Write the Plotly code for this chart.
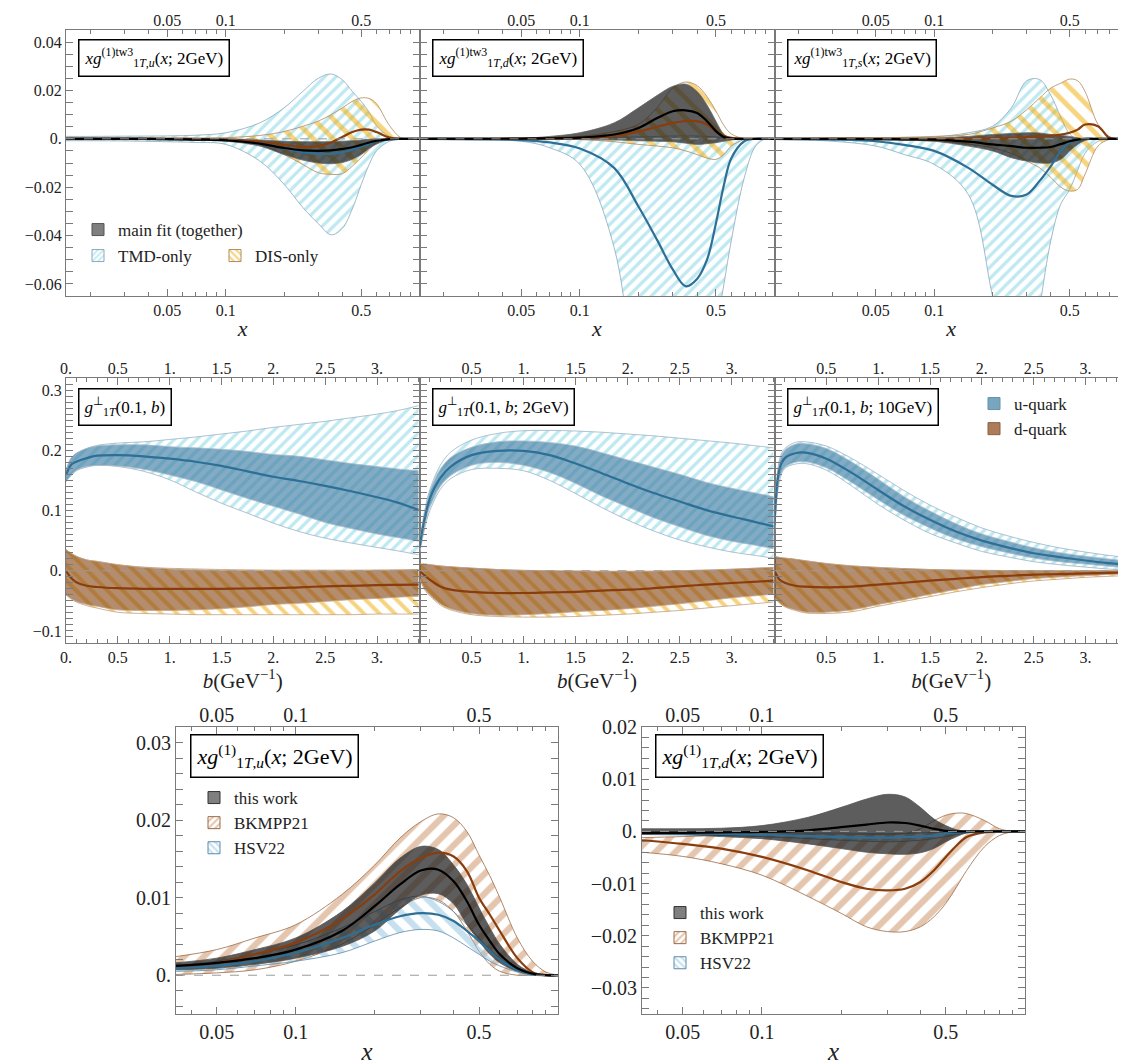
import math
import plotly.graph_objects as go

W, H = 1126, 1064
SERIF = "Liberation Serif"

# ---------------- data: top row, x g_1T^(1)tw3 (x; 2GeV) ----------------
X_TOP = [0.015, 0.02, 0.03, 0.05, 0.07, 0.1, 0.15, 0.2, 0.25, 0.3, 0.35, 0.4, 0.45, 0.5, 0.55, 0.6, 0.7, 0.8, 0.9, 1.0]
X_TOP_TICKS = [0.05, 0.1, 0.5]
X_TOP_LABELS = ["0.05", "0.1", "0.5"]

TMD_U_HI = [0.001, 0.001, 0.0011, 0.0012, 0.0015, 0.0025, 0.0066, 0.0128, 0.0196, 0.025, 0.0268, 0.0244, 0.0196, 0.0155, 0.011, 0.0055, 0.001, 0.0001, 0.0, 0.0]
TMD_U_LO = [-0.0008, -0.0008, -0.0009, -0.0012, -0.0015, -0.0023, -0.0092, -0.0188, -0.0284, -0.035, -0.0397, -0.037, -0.029, -0.019, -0.0106, -0.005, -0.001, 0.0, 0.0, 0.0]
TMD_U_MID = [0.0, 0.0, 0.0, -0.0001, -0.0002, -0.0005, -0.002, -0.004, -0.0055, -0.0062, -0.0062, -0.0055, -0.0045, -0.0032, -0.002, -0.001, -0.0002, 0.0, 0.0, 0.0]
DIS_U_HI = [0.0003, 0.0003, 0.0003, 0.0003, 0.0004, 0.0005, 0.0014, 0.003, 0.0052, 0.0073, 0.01, 0.0128, 0.0155, 0.0169, 0.0167, 0.0145, 0.0055, 0.0005, 0.0, 0.0]
DIS_U_LO = [-0.0003, -0.0003, -0.0003, -0.0003, -0.0004, -0.0005, -0.0023, -0.0065, -0.0106, -0.014, -0.0147, -0.0144, -0.0113, -0.0078, -0.0044, -0.0016, -0.0003, 0.0, 0.0, 0.0]
DIS_U_MID = [0.0, 0.0, 0.0, 0.0, -0.0001, -0.0003, -0.0012, -0.0025, -0.0033, -0.003, -0.0015, 0.0008, 0.0028, 0.0038, 0.0038, 0.0028, 0.0005, 0.0, 0.0, 0.0]
MAIN_U_HI = [0.0003, 0.0003, 0.0003, 0.0002, 0.0001, 0.0, -0.0005, -0.001, -0.0012, -0.0012, -0.0012, -0.001, -0.0008, -0.0005, -0.0002, 0.0, 0.0, 0.0, 0.0, 0.0]
MAIN_U_LO = [-0.0003, -0.0003, -0.0003, -0.0004, -0.0006, -0.001, -0.003, -0.0065, -0.0088, -0.01, -0.0103, -0.0098, -0.0085, -0.0065, -0.004, -0.0022, -0.0003, 0.0, 0.0, 0.0]
MAIN_U_MID = [0.0, 0.0, 0.0, -0.0001, -0.0003, -0.0006, -0.002, -0.0038, -0.0048, -0.005, -0.0048, -0.0042, -0.0035, -0.0025, -0.0015, -0.0008, -0.0001, 0.0, 0.0, 0.0]

TMD_D_HI = [0.0005, 0.0005, 0.0005, 0.0005, 0.0005, 0.0005, 0.0006, 0.0008, 0.001, 0.0012, 0.0012, 0.0012, 0.001, 0.0008, 0.0005, 0.0003, 0.0, 0.0, 0.0, 0.0]
TMD_D_LO = [-0.0003, -0.0004, -0.0006, -0.001, -0.0037, -0.0106, -0.045, -0.12, -0.17, -0.2, -0.2, -0.16, -0.11, -0.08, -0.06, -0.042, -0.016, -0.003, 0.0, 0.0]
TMD_D_MID = [0.0, 0.0, -0.0001, -0.0005, -0.0015, -0.004, -0.012, -0.028, -0.042, -0.054, -0.061, -0.058, -0.05, -0.035, -0.019, -0.008, -0.001, 0.0, 0.0, 0.0]
DIS_D_HI = [0.0001, 0.0001, 0.0001, 0.0002, 0.0005, 0.001, 0.003, 0.006, 0.013, 0.021, 0.0235, 0.022, 0.0175, 0.0115, 0.0055, 0.002, 0.0001, 0.0, 0.0, 0.0]
DIS_D_LO = [-0.0001, -0.0001, -0.0001, -0.0001, -0.0002, -0.0003, -0.0012, -0.0023, -0.003, -0.0037, -0.005, -0.0065, -0.008, -0.0085, -0.0065, -0.003, -0.0003, 0.0, 0.0, 0.0]
DIS_D_MID = [0.0, 0.0, 0.0, 0.0, 0.0001, 0.0003, 0.0012, 0.003, 0.005, 0.0066, 0.0073, 0.0073, 0.0059, 0.003, 0.0012, 0.0004, 0.0, 0.0, 0.0, 0.0]
MAIN_D_HI = [0.0001, 0.0001, 0.0001, 0.0002, 0.001, 0.0025, 0.0066, 0.0128, 0.018, 0.0217, 0.0226, 0.0196, 0.014, 0.0073, 0.0018, 0.0003, 0.0, 0.0, 0.0, 0.0]
MAIN_D_LO = [-0.0001, -0.0001, -0.0001, -0.0001, -0.0002, -0.0003, -0.0005, -0.0008, -0.001, -0.0012, -0.0018, -0.0023, -0.002, -0.0016, -0.001, -0.0005, 0.0, 0.0, 0.0, 0.0]
MAIN_D_MID = [0.0, 0.0, 0.0, 0.0001, 0.0002, 0.0005, 0.0018, 0.0045, 0.0086, 0.0114, 0.0118, 0.0107, 0.0073, 0.0032, 0.0007, 0.0001, 0.0, 0.0, 0.0, 0.0]

TMD_S_HI = [0.0003, 0.0003, 0.0004, 0.0005, 0.0006, 0.0008, 0.0025, 0.0052, 0.0128, 0.024, 0.0245, 0.018, 0.009, 0.002, 0.0, 0.0, 0.0, 0.0, 0.0, 0.0]
TMD_S_LO = [-0.0003, -0.0005, -0.001, -0.003, -0.0065, -0.0106, -0.023, -0.065, -0.1, -0.105, -0.07, -0.042, -0.027, -0.021, -0.013, -0.006, -0.001, 0.0, 0.0, 0.0]
TMD_S_MID = [0.0, -0.0001, -0.0003, -0.001, -0.0025, -0.005, -0.012, -0.019, -0.0236, -0.023, -0.0174, -0.0113, -0.005, -0.0016, -0.0005, 0.0, 0.0, 0.0, 0.0, 0.0]
DIS_S_HI = [0.0002, 0.0002, 0.0003, 0.0004, 0.0006, 0.001, 0.0018, 0.0045, 0.0073, 0.012, 0.0169, 0.021, 0.023, 0.0247, 0.024, 0.0196, 0.006, 0.001, 0.0, 0.0]
DIS_S_LO = [-0.0002, -0.0002, -0.0003, -0.0004, -0.0006, -0.001, -0.0022, -0.0037, -0.006, -0.0092, -0.012, -0.016, -0.02, -0.0216, -0.0209, -0.0147, -0.003, -0.0003, 0.0, 0.0]
DIS_S_MID = [0.0, 0.0, 0.0, 0.0, 0.0, 0.0, 0.0001, 0.0002, 0.0004, 0.0007, 0.001, 0.0013, 0.0017, 0.0025, 0.0038, 0.0059, 0.0052, 0.0004, 0.0, 0.0]
MAIN_S_HI = [0.0001, 0.0001, 0.0001, 0.0002, 0.0002, 0.0003, 0.001, 0.0018, 0.0022, 0.0025, 0.0024, 0.0018, 0.0014, 0.001, 0.0004, 0.0001, 0.0, 0.0, 0.0, 0.0]
MAIN_S_LO = [-0.0001, -0.0001, -0.0002, -0.0004, -0.0006, -0.001, -0.003, -0.005, -0.0078, -0.0092, -0.01, -0.01, -0.0085, -0.005, -0.0023, -0.0007, 0.0, 0.0, 0.0, 0.0]
MAIN_S_MID = [0.0, 0.0, 0.0, -0.0001, -0.0002, -0.0003, -0.0012, -0.0023, -0.003, -0.0037, -0.0037, -0.0034, -0.0022, -0.001, -0.0003, 0.0, 0.0, 0.0, 0.0, 0.0]

# ---------------- data: middle row, g_1T^perp(0.1, b) ----------------
B = [0.0, 0.05, 0.1, 0.2, 0.3, 0.5, 0.75, 1.0, 1.25, 1.5, 1.75, 2.0, 2.25, 2.5, 2.75, 3.0, 3.2, 3.4]

U1_FIT_HI = [0.167, 0.187, 0.195, 0.203, 0.207, 0.209, 0.209, 0.206, 0.204, 0.2017, 0.198, 0.193, 0.19, 0.184, 0.178, 0.173, 0.169, 0.166]
U1_FIT_LO = [0.148, 0.159, 0.167, 0.173, 0.175, 0.174, 0.1685, 0.159, 0.148, 0.134, 0.12, 0.107, 0.094, 0.08, 0.07, 0.061, 0.055, 0.049]
U1_MID = [0.159, 0.176, 0.181, 0.187, 0.191, 0.192, 0.19, 0.186, 0.181, 0.174, 0.165, 0.156, 0.149, 0.141, 0.132, 0.122, 0.113, 0.101]
U1_TMD_HI = [0.167, 0.187, 0.195, 0.203, 0.208, 0.212, 0.214, 0.218, 0.222, 0.227, 0.232, 0.238, 0.243, 0.248, 0.254, 0.26, 0.266, 0.274]
U1_TMD_LO = [0.148, 0.158, 0.166, 0.172, 0.175, 0.173, 0.165, 0.151, 0.131, 0.112, 0.0956, 0.079, 0.065, 0.054, 0.046, 0.0387, 0.033, 0.0265]
D1_FIT_HI = [0.035, 0.029, 0.024, 0.018, 0.0155, 0.01, 0.0055, 0.003, 0.0015, 0.0006, 0.0002, 0.0, 0.0, 0.0, 0.0, 0.0006, 0.001, 0.002]
D1_FIT_LO = [-0.04, -0.046, -0.051, -0.056, -0.059, -0.065, -0.066, -0.066, -0.065, -0.063, -0.06, -0.056, -0.054, -0.051, -0.048, -0.046, -0.044, -0.0425]
D1_MID = [0.0, -0.012, -0.019, -0.025, -0.027, -0.029, -0.03, -0.03, -0.03, -0.03, -0.0295, -0.029, -0.0275, -0.026, -0.025, -0.024, -0.0235, -0.023]
D1_DIS_HI = [0.035, 0.029, 0.024, 0.018, 0.0155, 0.01, 0.006, 0.004, 0.003, 0.002, 0.0015, 0.001, 0.001, 0.001, 0.001, 0.0012, 0.0015, 0.002]
D1_DIS_LO = [-0.04, -0.047, -0.052, -0.058, -0.062, -0.069, -0.071, -0.072, -0.073, -0.073, -0.073, -0.073, -0.073, -0.073, -0.073, -0.072, -0.072, -0.072]

U2_FIT_HI = [0.045, 0.097, 0.132, 0.168, 0.188, 0.205, 0.214, 0.2155, 0.213, 0.207, 0.196, 0.184, 0.172, 0.16, 0.147, 0.137, 0.13, 0.123]
U2_FIT_LO = [0.03, 0.076, 0.106, 0.14, 0.158, 0.175, 0.18, 0.175, 0.163, 0.145, 0.124, 0.106, 0.088, 0.073, 0.059, 0.049, 0.043, 0.0365]
U2_MID = [0.0376, 0.087, 0.12, 0.154, 0.173, 0.192, 0.199, 0.199, 0.192, 0.178, 0.162, 0.145, 0.129, 0.115, 0.101, 0.09, 0.082, 0.0735]
U2_TMD_HI = [0.045, 0.1, 0.135, 0.175, 0.197, 0.217, 0.228, 0.2325, 0.233, 0.232, 0.23, 0.227, 0.224, 0.22, 0.216, 0.212, 0.208, 0.204]
U2_TMD_LO = [0.028, 0.07, 0.1, 0.135, 0.153, 0.168, 0.17, 0.166, 0.15, 0.128, 0.105, 0.084, 0.066, 0.051, 0.04, 0.031, 0.026, 0.021]
D2_FIT_HI = [0.011, 0.011, 0.01, 0.008, 0.0065, 0.0044, 0.002, 0.0006, 0.0, -0.0005, -0.001, -0.001, -0.0008, 0.0, 0.001, 0.0025, 0.004, 0.0055]
D2_FIT_LO = [-0.012, -0.03, -0.04, -0.055, -0.063, -0.071, -0.074, -0.073, -0.071, -0.068, -0.066, -0.063, -0.059, -0.055, -0.05, -0.045, -0.042, -0.039]
D2_MID = [0.0, -0.0077, -0.015, -0.026, -0.0315, -0.035, -0.037, -0.037, -0.036, -0.035, -0.033, -0.0315, -0.029, -0.026, -0.023, -0.0204, -0.0185, -0.0166]
D2_DIS_HI = [0.011, 0.011, 0.01, 0.008, 0.0065, 0.0044, 0.002, 0.0006, 0.0, -0.0005, -0.001, -0.001, -0.0008, 0.0, 0.001, 0.0025, 0.004, 0.0055]
D2_DIS_LO = [-0.012, -0.032, -0.042, -0.057, -0.065, -0.073, -0.076, -0.077, -0.077, -0.076, -0.074, -0.072, -0.069, -0.066, -0.062, -0.058, -0.055, -0.052]

U3_FIT_HI = [0.085, 0.182, 0.2, 0.21, 0.211, 0.203, 0.18, 0.152, 0.123, 0.099, 0.078, 0.061, 0.049, 0.038, 0.03, 0.024, 0.02, 0.016]
U3_FIT_LO = [0.065, 0.155, 0.172, 0.18, 0.181, 0.171, 0.146, 0.118, 0.092, 0.071, 0.053, 0.04, 0.03, 0.021, 0.015, 0.011, 0.008, 0.005]
U3_MID = [0.076, 0.17, 0.187, 0.195, 0.196, 0.186, 0.162, 0.134, 0.107, 0.0845, 0.065, 0.05, 0.0387, 0.029, 0.0227, 0.017, 0.013, 0.01]
U3_TMD_HI = [0.087, 0.186, 0.203, 0.213, 0.214, 0.207, 0.186, 0.16, 0.133, 0.109, 0.089, 0.071, 0.058, 0.047, 0.038, 0.031, 0.026, 0.022]
U3_TMD_LO = [0.063, 0.15, 0.17, 0.177, 0.178, 0.167, 0.14, 0.11, 0.084, 0.062, 0.046, 0.032, 0.023, 0.015, 0.01, 0.006, 0.003, 0.001]
D3_FIT_HI = [0.024, 0.022, 0.021, 0.019, 0.0166, 0.012, 0.008, 0.0055, 0.0035, 0.002, 0.001, 0.0006, 0.0003, 0.0002, 0.0001, 0.0, 0.0, 0.0]
D3_FIT_LO = [-0.045, -0.053, -0.059, -0.065, -0.0685, -0.069, -0.065, -0.056, -0.048, -0.039, -0.031, -0.023, -0.018, -0.013, -0.0105, -0.008, -0.0065, -0.0055]
D3_MID = [0.0, -0.015, -0.02, -0.025, -0.0265, -0.0276, -0.0265, -0.023, -0.02, -0.0166, -0.0135, -0.0105, -0.0085, -0.0066, -0.0055, -0.0044, -0.0037, -0.003]
D3_DIS_HI = [0.024, 0.022, 0.021, 0.019, 0.0166, 0.012, 0.008, 0.0055, 0.0035, 0.002, 0.001, 0.0006, 0.0003, 0.0002, 0.0001, 0.0, 0.0, 0.0]
D3_DIS_LO = [-0.045, -0.054, -0.06, -0.066, -0.07, -0.071, -0.068, -0.059, -0.051, -0.043, -0.035, -0.028, -0.022, -0.017, -0.014, -0.011, -0.0095, -0.008]

# ---------------- data: bottom row, x g_1T^(1)(x; 2GeV) comparisons ----------------
X_BOT = [0.035, 0.05, 0.07, 0.1, 0.15, 0.2, 0.25, 0.3, 0.35, 0.4, 0.45, 0.5, 0.55, 0.6, 0.7, 0.8, 0.9, 1.0]

THIS_U_HI = [0.0016, 0.0022, 0.0033, 0.0048, 0.0082, 0.0119, 0.0151, 0.0166, 0.0162, 0.0142, 0.0117, 0.0087, 0.0061, 0.004, 0.0014, 0.0003, 0.0, 0.0]
THIS_U_LO = [0.0007, 0.0009, 0.0014, 0.0022, 0.0037, 0.0057, 0.0085, 0.0103, 0.0105, 0.0092, 0.0065, 0.0044, 0.0027, 0.0016, 0.0005, 0.0001, 0.0, 0.0]
THIS_U_MID = [0.0012, 0.0016, 0.0022, 0.0033, 0.0057, 0.0089, 0.0117, 0.0135, 0.0136, 0.0121, 0.0095, 0.0065, 0.0044, 0.0027, 0.0009, 0.0002, 0.0, 0.0]
BK_U_HI = [0.0024, 0.0033, 0.0048, 0.0065, 0.0104, 0.0142, 0.0177, 0.0198, 0.0208, 0.0203, 0.0185, 0.0155, 0.0128, 0.01, 0.0048, 0.0018, 0.0004, 0.0]
BK_U_LO = [0.0001, 0.0003, 0.0007, 0.0018, 0.004, 0.0065, 0.0087, 0.01, 0.0097, 0.0082, 0.0057, 0.0031, 0.0014, 0.0005, 0.0, 0.0, 0.0, 0.0]
BK_U_MID = [0.0009, 0.0016, 0.0027, 0.0042, 0.0072, 0.0104, 0.0134, 0.0151, 0.0158, 0.0153, 0.0134, 0.01, 0.0078, 0.0057, 0.0022, 0.0004, 0.0, 0.0]
HSV_U_HI = [0.0012, 0.0018, 0.0027, 0.0039, 0.0061, 0.0082, 0.0097, 0.0102, 0.0095, 0.0082, 0.0065, 0.0048, 0.0033, 0.0022, 0.0007, 0.0001, 0.0, 0.0]
HSV_U_LO = [0.0005, 0.0007, 0.0012, 0.0018, 0.0029, 0.0044, 0.0055, 0.0059, 0.0057, 0.0048, 0.0037, 0.0027, 0.0018, 0.0012, 0.0004, 0.0, 0.0, 0.0]
HSV_U_MID = [0.0009, 0.0012, 0.0018, 0.0029, 0.0048, 0.0065, 0.0076, 0.008, 0.0078, 0.007, 0.0057, 0.0044, 0.0031, 0.002, 0.0007, 0.0001, 0.0, 0.0]

THIS_D_HI = [0.0005, 0.0005, 0.0006, 0.0011, 0.0027, 0.0046, 0.0062, 0.0071, 0.0066, 0.0046, 0.0024, 0.0011, 0.0003, 0.0, 0.0, 0.0, 0.0, 0.0]
THIS_D_LO = [-0.0006, -0.0006, -0.001, -0.0014, -0.0024, -0.0033, -0.004, -0.0043, -0.0044, -0.0041, -0.0033, -0.002, -0.001, -0.0003, 0.0, 0.0, 0.0, 0.0]
THIS_D_MID = [-0.0003, -0.0003, -0.0002, -0.0001, 0.0002, 0.0008, 0.0013, 0.0017, 0.0016, 0.0011, 0.0005, 0.0001, 0.0, 0.0, 0.0, 0.0, 0.0, 0.0]
BK_D_HI = [-0.0012, -0.001, -0.0008, -0.0006, -0.0005, -0.0005, -0.0006, -0.0006, -0.0004, 0.0005, 0.002, 0.0031, 0.0035, 0.0034, 0.0021, 0.0005, 0.0, 0.0]
BK_D_LO = [-0.004, -0.0048, -0.0062, -0.0084, -0.0125, -0.0157, -0.0183, -0.0192, -0.0192, -0.0183, -0.0164, -0.0138, -0.0106, -0.0075, -0.003, -0.0008, -0.0001, 0.0]
BK_D_MID = [-0.0017, -0.0024, -0.0033, -0.0049, -0.0075, -0.0097, -0.011, -0.0113, -0.011, -0.0097, -0.0075, -0.0049, -0.0027, -0.0011, -0.0002, 0.0, 0.0, 0.0]
HSV_D_HI = [-0.0001, -0.0001, -0.0002, -0.0002, -0.0003, -0.0003, -0.0004, -0.0004, -0.0004, -0.0003, -0.0002, -0.0001, 0.0, 0.0, 0.0, 0.0, 0.0, 0.0]
HSV_D_LO = [-0.0006, -0.0007, -0.0008, -0.001, -0.0014, -0.0017, -0.0019, -0.002, -0.0019, -0.0017, -0.0014, -0.001, -0.0006, -0.0003, 0.0, 0.0, 0.0, 0.0]
HSV_D_MID = [-0.0003, -0.0004, -0.0005, -0.0006, -0.0009, -0.0011, -0.0012, -0.0012, -0.0011, -0.001, -0.0008, -0.0004, -0.0002, -0.0001, 0.0, 0.0, 0.0, 0.0]

# ---------------- styles ----------------
AXC = "#7a7a7a"
C_BLUE = "#2e6f96"
C_BROWN = "#8a3d0c"
TMD_PAT = dict(shape="/", fgcolor="#7fd3e3", bgcolor="rgba(0,0,0,0)", size=8, solidity=0.42)
DIS_PAT = dict(shape="\\", fgcolor="#f0aa00", bgcolor="rgba(0,0,0,0)", size=14, solidity=0.36)
DIS_PAT_M = dict(shape="\\", fgcolor="#eca800", bgcolor="rgba(0,0,0,0)", size=11, solidity=0.36)
BK_PAT = dict(shape="/", fgcolor="#c98d60", bgcolor="rgba(0,0,0,0)", size=14, solidity=0.45)
HSV_PAT = dict(shape="\\", fgcolor="#8fc2e0", bgcolor="rgba(0,0,0,0)", size=14, solidity=0.45)
MAIN_FILL = "rgba(30,30,30,0.72)"
U_FILL = "rgba(56,120,160,0.62)"
D_FILL = "rgba(130,65,15,0.6)"


def sx(i):
    return "" if i == 1 else str(i)


fig = go.Figure()


def band(i, x, lo, hi, edge, fill=None, pattern=None, ew=0.8):
    xa, ya = "x" + sx(i), "y" + sx(i)
    fig.add_trace(go.Scatter(x=x, y=lo, xaxis=xa, yaxis=ya, mode="lines",
                             line=dict(color=edge, width=ew, shape="spline"),
                             showlegend=False, hoverinfo="skip"))
    kw = dict(fill="tonexty")
    if pattern is not None:
        kw["fillpattern"] = pattern
        kw["fillcolor"] = "rgba(0,0,0,0)"
    else:
        kw["fillcolor"] = fill
    fig.add_trace(go.Scatter(x=x, y=hi, xaxis=xa, yaxis=ya, mode="lines",
                             line=dict(color=edge, width=ew, shape="spline"),
                             showlegend=False, hoverinfo="skip", **kw))


def curve(i, x, y, color, w=2.2):
    fig.add_trace(go.Scatter(x=x, y=y, xaxis="x" + sx(i), yaxis="y" + sx(i), mode="lines",
                             line=dict(color=color, width=w, shape="spline"),
                             showlegend=False, hoverinfo="skip"))


def legend_item(i, name, legend, color, pattern=None, line="#555"):
    marker = dict(color=color, line=dict(color=line, width=1))
    if pattern is not None:
        marker["pattern"] = pattern
    fig.add_trace(go.Bar(x=[None], y=[None], xaxis="x" + sx(i), yaxis="y" + sx(i), name=name,
                         marker=marker, legend=legend, showlegend=True, hoverinfo="skip"))


# ---- top row ----
top_sets = [
    (TMD_U_LO, TMD_U_HI, TMD_U_MID, DIS_U_LO, DIS_U_HI, DIS_U_MID, MAIN_U_LO, MAIN_U_HI, MAIN_U_MID),
    (TMD_D_LO, TMD_D_HI, TMD_D_MID, DIS_D_LO, DIS_D_HI, DIS_D_MID, MAIN_D_LO, MAIN_D_HI, MAIN_D_MID),
    (TMD_S_LO, TMD_S_HI, TMD_S_MID, DIS_S_LO, DIS_S_HI, DIS_S_MID, MAIN_S_LO, MAIN_S_HI, MAIN_S_MID),
]
for k, s in enumerate(top_sets):
    i = k + 1
    band(i, X_TOP, s[0], s[1], "#8aaabd", pattern=TMD_PAT)
    band(i, X_TOP, s[3], s[4], "#b08a60", pattern=DIS_PAT)
    band(i, X_TOP, s[6], s[7], "#666666", fill=MAIN_FILL)
    curve(i, X_TOP, s[2], C_BLUE)
    curve(i, X_TOP, s[5], C_BROWN)
    curve(i, X_TOP, s[8], "black")

# ---- middle row ----
mid_sets = [
    (U1_TMD_LO, U1_TMD_HI, U1_FIT_LO, U1_FIT_HI, U1_MID, D1_DIS_LO, D1_DIS_HI, D1_FIT_LO, D1_FIT_HI, D1_MID),
    (U2_TMD_LO, U2_TMD_HI, U2_FIT_LO, U2_FIT_HI, U2_MID, D2_DIS_LO, D2_DIS_HI, D2_FIT_LO, D2_FIT_HI, D2_MID),
    (U3_TMD_LO, U3_TMD_HI, U3_FIT_LO, U3_FIT_HI, U3_MID, D3_DIS_LO, D3_DIS_HI, D3_FIT_LO, D3_FIT_HI, D3_MID),
]
for k, s in enumerate(mid_sets):
    i = k + 4
    band(i, B, s[0], s[1], "#9ab4c4", pattern=TMD_PAT)
    band(i, B, s[2], s[3], "#a9bccb", fill=U_FILL)
    band(i, B, s[5], s[6], "#c0a080", pattern=DIS_PAT_M)
    band(i, B, s[7], s[8], "#c4a68c", fill=D_FILL)
    curve(i, B, s[4], C_BLUE)
    curve(i, B, s[9], C_BROWN)

# ---- bottom row ----
bot_sets = [
    (BK_U_LO, BK_U_HI, BK_U_MID, HSV_U_LO, HSV_U_HI, HSV_U_MID, THIS_U_LO, THIS_U_HI, THIS_U_MID),
    (BK_D_LO, BK_D_HI, BK_D_MID, HSV_D_LO, HSV_D_HI, HSV_D_MID, THIS_D_LO, THIS_D_HI, THIS_D_MID),
]
for k, s in enumerate(bot_sets):
    i = k + 7
    band(i, X_BOT, s[0], s[1], "#9a6a45", pattern=BK_PAT)
    band(i, X_BOT, s[3], s[4], "#5a8aaa", pattern=HSV_PAT)
    band(i, X_BOT, s[6], s[7], "#555555", fill=MAIN_FILL)
    curve(i, X_BOT, s[2], C_BROWN)
    curve(i, X_BOT, s[5], C_BLUE)
    curve(i, X_BOT, s[8], "black")

# ---- legends (swatches only) ----
legend_item(1, "main fit (together)", "legend", "rgba(0,0,0,0.5)")
legend_item(1, "TMD-only", "legend2", "white", pattern=dict(shape="/", fgcolor="#7fd3e3", bgcolor="white", size=5, solidity=0.45), line="#8aaabd")
legend_item(1, "DIS-only", "legend2", "white", pattern=dict(shape="\\", fgcolor="#f0aa00", bgcolor="white", size=6, solidity=0.45), line="#b08a60")
legend_item(6, "u-quark", "legend3", "#78a6c0", line="#6890a8")
legend_item(6, "d-quark", "legend3", "#ad7c5a", line="#8a6040")
for i, lg in ((7, "legend4"), (8, "legend5")):
    legend_item(i, "this work", lg, "rgba(0,0,0,0.5)", line="#333")
    legend_item(i, "BKMPP21", lg, "white", pattern=dict(shape="/", fgcolor="#c98d60", bgcolor="white", size=6, solidity=0.45), line="#9a6a45")
    legend_item(i, "HSV22", lg, "white", pattern=dict(shape="\\", fgcolor="#8fc2e0", bgcolor="white", size=6, solidity=0.45), line="#5a8aaa")

# ---------------- layout ----------------
def px_x(p):
    return p / W


def px_y(p):
    return 1 - p / H


TOP_Y = [px_y(288), px_y(22)]
MID_Y = [px_y(635), px_y(370)]
BOT_Y = [px_y(1006), px_y(719)]
COLX = [[px_x(58), px_x(411.5)], [px_x(411.5), px_x(766.5)], [px_x(766.5), px_x(1120)]]
BOTX = [[px_x(168), px_x(550)], [px_x(634), px_x(1017)]]

TOP_XR = [math.log10(0.015), 0.0]
BOT_XR = [math.log10(0.035), 0.0]
X_MINOR = [0.02, 0.03, 0.04, 0.06, 0.07, 0.08, 0.09, 0.2, 0.3, 0.4, 0.6, 0.7, 0.8, 0.9]
B_TICKS = [0, 0.5, 1, 1.5, 2, 2.5, 3]
B_LABELS = ["0.", "0.5", "1.", "1.5", "2.", "2.5", "3."]

Y_TOP_TICKS = [-0.06, -0.04, -0.02, 0.0, 0.02, 0.04]
Y_TOP_LABELS = ["\u22120.06", "\u22120.04", "\u22120.02", "0.", "0.02", "0.04"]
Y_MID_TICKS = [-0.1, 0.0, 0.1, 0.2, 0.3]
Y_MID_LABELS = ["\u22120.1", "0.", "0.1", "0.2", "0.3"]
Y_BL_TICKS = [0.0, 0.01, 0.02, 0.03]
Y_BL_LABELS = ["0.", "0.01", "0.02", "0.03"]
Y_BR_TICKS = [-0.03, -0.02, -0.01, 0.0, 0.01, 0.02]
Y_BR_LABELS = ["\u22120.03", "\u22120.02", "\u22120.01", "0.", "0.01", "0.02"]


def base_axis(domain, anchor, rng, fs, typ="linear"):
    return dict(domain=domain, anchor=anchor, range=rng, type=typ, showline=True, linecolor=AXC,
                linewidth=1, mirror="allticks", ticks="inside", ticklen=7, tickcolor=AXC, tickwidth=1,
                showgrid=False, zeroline=False, fixedrange=True, automargin=False,
                tickfont=dict(family=SERIF, size=fs, color="#222"))


lay = {}
panels = []
XT = "<i>x</i>"
BT = "<i>b</i>(GeV<sup>\u22121</sup>)"
for k in range(3):
    panels.append((k + 1, COLX[k], TOP_Y, "log", TOP_XR, X_TOP_TICKS, X_TOP_LABELS, dict(tickvals=X_MINOR),
                   [-0.065, 0.045], Y_TOP_TICKS, Y_TOP_LABELS, 0.005, k == 0, 16, XT, 22, 2))
for k in range(3):
    tv = B_TICKS if k == 0 else B_TICKS[1:]
    tl = B_LABELS if k == 0 else B_LABELS[1:]
    panels.append((k + 4, COLX[k], MID_Y, "linear", [0, 3.41], tv, tl, dict(dtick=0.1, tick0=0),
                   [-0.12, 0.32], Y_MID_TICKS, Y_MID_LABELS, 0.01, k == 0, 16, BT, 21, 2))
panels.append((7, BOTX[0], BOT_Y, "log", BOT_XR, X_TOP_TICKS, X_TOP_LABELS, dict(tickvals=X_MINOR),
               [-0.005, 0.032], Y_BL_TICKS, Y_BL_LABELS, 0.002, True, 20, XT, 25, 0))
panels.append((8, BOTX[1], BOT_Y, "log", BOT_XR, X_TOP_TICKS, X_TOP_LABELS, dict(tickvals=X_MINOR),
               [-0.035, 0.02], Y_BR_TICKS, Y_BR_LABELS, 0.002, True, 20, XT, 25, 0))

shapes = []
for (i, xd, yd, xt, xr, xtv, xtl, xminor, yr, ytv, ytl, ydt, showy, fs, title, tfs, stand) in panels:
    xa = base_axis(xd, "y" + sx(i), xr, fs, xt)
    xa.update(tickmode="array", tickvals=xtv, ticktext=xtl,
              minor=dict(ticks="inside", ticklen=4, tickcolor=AXC, **xminor),
              title=dict(text=title, font=dict(family=SERIF, size=tfs, color="#222"), standoff=stand))
    ya = base_axis(yd, "x" + sx(i), yr, fs)
    ya.update(tickmode="array", tickvals=ytv, ticktext=ytl, showticklabels=showy,
              minor=dict(ticks="inside", ticklen=4, tickcolor=AXC, dtick=ydt, tick0=0))
    lay["xaxis" + sx(i)] = xa
    lay["yaxis" + sx(i)] = ya
    # top tick labels (overlaying axis)
    ov = dict(overlaying="x" + sx(i), anchor="y" + sx(i), side="top", type=xt, range=xr, tickmode="array",
              tickvals=xtv, ticktext=xtl, ticks="", showline=False, showgrid=False, zeroline=False,
              fixedrange=True, automargin=False, tickfont=dict(family=SERIF, size=fs, color="#222"))
    lay["xaxis" + str(i + 8)] = ov
    fig.add_trace(go.Scatter(x=[None], y=[None], xaxis="x" + str(i + 8), yaxis="y" + sx(i),
                             showlegend=False, hoverinfo="skip"))
    shapes.append(dict(type="line", xref="x" + sx(i) + " domain", yref="y" + sx(i), x0=0, x1=1, y0=0, y1=0,
                       line=dict(color="#9a9a9a", width=1, dash="dash"), layer="above"))

# panel labels
LABELS = [
    (1, "<i>xg</i><sup>(1)tw3</sup><sub>1<i>T</i>,<i>u</i></sub>(<i>x</i>; 2GeV)", 17, 0.034, 0.966),
    (2, "<i>xg</i><sup>(1)tw3</sup><sub>1<i>T</i>,<i>d</i></sub>(<i>x</i>; 2GeV)", 17, 0.034, 0.966),
    (3, "<i>xg</i><sup>(1)tw3</sup><sub>1<i>T</i>,<i>s</i></sub>(<i>x</i>; 2GeV)", 17, 0.034, 0.966),
    (4, "<i>g</i><sup>\u22a5</sup><sub>1<i>T</i></sub>(0.1, <i>b</i>)", 17, 0.034, 0.962),
    (5, "<i>g</i><sup>\u22a5</sup><sub>1<i>T</i></sub>(0.1, <i>b</i>; 2GeV)", 17, 0.034, 0.962),
    (6, "<i>g</i><sup>\u22a5</sup><sub>1<i>T</i></sub>(0.1, <i>b</i>; 10GeV)", 17, 0.034, 0.962),
    (7, "<i>xg</i><sup>(1)</sup><sub>1<i>T</i>,<i>u</i></sub>(<i>x</i>; 2GeV)", 22, 0.037, 0.975),
    (8, "<i>xg</i><sup>(1)</sup><sub>1<i>T</i>,<i>d</i></sub>(<i>x</i>; 2GeV)", 22, 0.034, 0.975),
]
annotations = []
for i, txt, fs, ax_, ay_ in LABELS:
    annotations.append(dict(text=txt, xref="x" + sx(i) + " domain", yref="y" + sx(i) + " domain", x=ax_, y=ay_,
                            xanchor="left", yanchor="top", showarrow=False, align="left",
                            font=dict(family=SERIF, size=fs, color="black"),
                            bgcolor="white", bordercolor="black", borderwidth=1.5, borderpad=5))


def leg(x, y, fs, orient="v", entrywidth=None):
    d = dict(x=px_x(x), y=px_y(y), xref="paper", yref="paper", xanchor="left", yanchor="top",
             bgcolor="rgba(0,0,0,0)", borderwidth=0, orientation=orient,
             font=dict(family=SERIF, size=fs, color="#222"), tracegroupgap=0, itemclick=False,
             itemdoubleclick=False)
    if entrywidth is not None:
        d["entrywidth"] = entrywidth
        d["entrywidthmode"] = "pixels"
    return d


lay.update(
    width=W, height=H, margin=dict(l=0, r=0, t=0, b=0), paper_bgcolor="white", plot_bgcolor="white",
    showlegend=True, barmode="overlay",
    legend=leg(70, 204, 17),
    legend2=leg(70, 230, 17, "h", 92),
    legend3=leg(966, 378, 17),
    legend4=leg(186, 772, 17),
    legend5=leg(652, 887, 17),
    shapes=shapes, annotations=annotations,
    font=dict(family=SERIF, color="#222"),
)
fig.update_layout(**lay)
fig.write_html("out.html")
